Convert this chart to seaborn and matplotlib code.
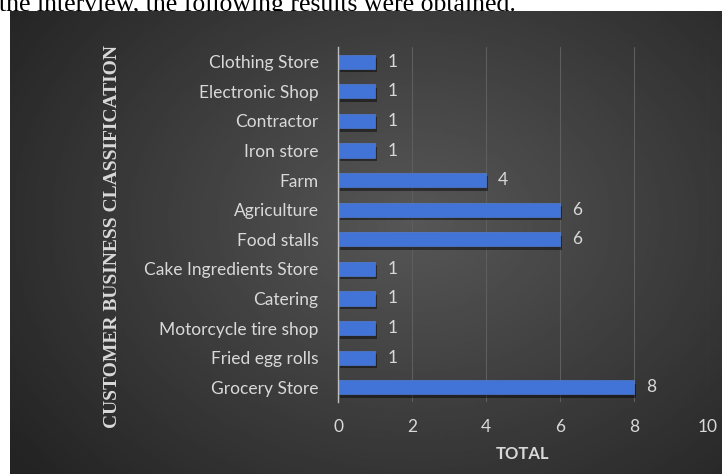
import numpy as np
import pandas as pd
import seaborn as sns
import matplotlib.pyplot as plt
import matplotlib.patheffects as pe

## Data
categories = ["Clothing Store", "Electronic Shop", "Contractor", "Iron store", "Farm",
              "Agriculture", "Food stalls", "Cake Ingredients Store", "Catering",
              "Motorcycle tire shop", "Fried egg rolls", "Grocery Store"]
totals = [1, 1, 1, 1, 4, 6, 6, 1, 1, 1, 1, 8]
x_ticks = [0, 2, 4, 6, 8, 10]

df = pd.DataFrame({"category": categories, "total": totals})

sns.set_theme(style="dark")
plt.rcParams['font.family'] = ['Lato', 'DejaVu Sans']
txt = "#d9d9d9"

fig = plt.figure(figsize=(7.22, 4.74), dpi=100)
fig.patch.set_facecolor("white")

# dark gradient panel behind the chart
bg = fig.add_axes([10 / 722, 0, 1 - 10 / 722, 1 - 11 / 474])
yy, xx = np.mgrid[0:200, 0:300]
r = np.sqrt(((xx - 170) / 190.0) ** 2 + ((yy - 90) / 150.0) ** 2)
shade = np.clip(0.34 - 0.18 * r, 0.14, 0.34)
bg.imshow(shade, cmap="gray", vmin=0, vmax=1, aspect="auto", extent=[0, 1, 0, 1])
bg.set_axis_off()

# cut-off sentence at top of the page
fig.text(-0.002, 1 - 11 / 474, "the interview, the following results were obtained.",
         family="Liberation Serif", fontsize=18.5, color="black", va="baseline", ha="left",
         zorder=-1)

ax = fig.add_axes([338 / 722, 1 - 402 / 474, (708 - 338) / 722, (402 - 47) / 474])
ax.set_facecolor("none")
sns.barplot(data=df, x="total", y="category", orient="h", color="#4274d8",
            width=0.48, saturation=1, ax=ax)
for p in ax.patches:
    p.set_path_effects([pe.SimplePatchShadow(offset=(1.5, -2.5), shadow_rgbFace="black", alpha=0.45),
                        pe.Normal()])
    p.set_edgecolor("#5585e6")
    p.set_linewidth(0.4)

for i, v in enumerate(totals):
    ax.text(v + 0.33, i, str(v), color=txt, fontsize=12.5, va="center", ha="left")

ax.set_xlim(0, 10)
ax.set_ylim(11.5, -0.5)
ax.set_xticks(x_ticks)
ax.set_xticklabels([str(t) for t in x_ticks], color=txt, fontsize=12.5)
ax.tick_params(axis="y", colors=txt, labelsize=12.5, pad=14, length=0)
ax.tick_params(axis="x", pad=12, length=0)
ax.grid(axis="x", color="#5e5e5e", linewidth=0.8)
ax.grid(axis="y", visible=False)
for s in ["top", "right", "bottom"]:
    ax.spines[s].set_visible(False)
ax.spines["left"].set_color("#bfbfbf")
ax.spines["left"].set_linewidth(1.0)

ax.set_xlabel("TOTAL", color=txt, fontsize=12, fontweight="bold", labelpad=8)
ax.set_ylabel("")
fig.text(113 / 722, 1 - 236 / 474, "CUSTOMER BUSINESS CLASSIFICATION", rotation=90,
         family="Liberation Serif", fontweight="bold", fontsize=14, color=txt,
         ha="center", va="center")

fig.savefig("out.png", dpi=100)
